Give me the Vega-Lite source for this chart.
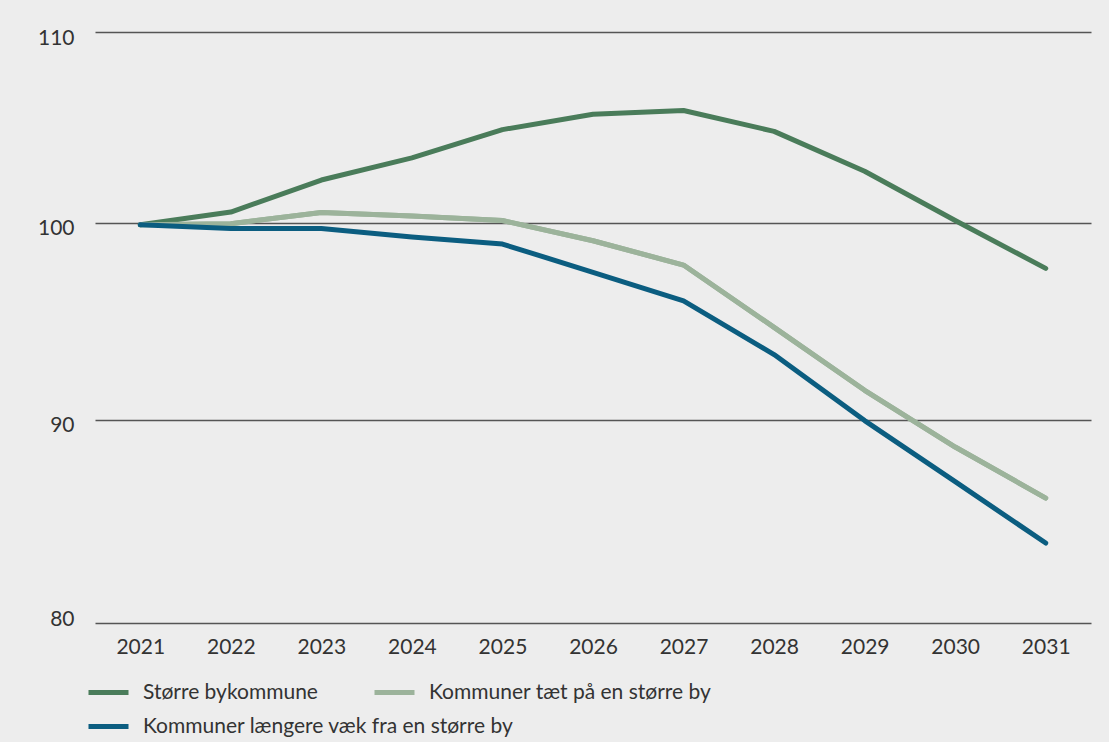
{
  "$schema": "https://vega.github.io/schema/vega-lite/v6.json",
  "width": 996,
  "height": 591,
  "autosize": {"type": "none"},
  "padding": {"left": 95, "top": 32, "right": 18, "bottom": 119},
  "background": "#ededed",
  "config": {"view": {"stroke": null}, "font": "Lato"},
  "data": {
    "values": [
      {"year": "2021", "series": "Større bykommune", "value": 99.9},
      {"year": "2022", "series": "Større bykommune", "value": 100.56},
      {"year": "2023", "series": "Større bykommune", "value": 102.22},
      {"year": "2024", "series": "Større bykommune", "value": 103.37},
      {"year": "2025", "series": "Større bykommune", "value": 104.85},
      {"year": "2026", "series": "Større bykommune", "value": 105.66},
      {"year": "2027", "series": "Større bykommune", "value": 105.85},
      {"year": "2028", "series": "Større bykommune", "value": 104.76},
      {"year": "2029", "series": "Større bykommune", "value": 102.68},
      {"year": "2030", "series": "Større bykommune", "value": 100.12},
      {"year": "2031", "series": "Større bykommune", "value": 97.66},
      {"year": "2021", "series": "Kommuner tæt på en større by", "value": 99.9},
      {"year": "2022", "series": "Kommuner tæt på en større by", "value": 99.96},
      {"year": "2023", "series": "Kommuner tæt på en større by", "value": 100.54},
      {"year": "2024", "series": "Kommuner tæt på en større by", "value": 100.35},
      {"year": "2025", "series": "Kommuner tæt på en større by", "value": 100.12},
      {"year": "2026", "series": "Kommuner tæt på en større by", "value": 99.08},
      {"year": "2027", "series": "Kommuner tæt på en større by", "value": 97.83},
      {"year": "2028", "series": "Kommuner tæt på en større by", "value": 94.65},
      {"year": "2029", "series": "Kommuner tæt på en større by", "value": 91.47},
      {"year": "2030", "series": "Kommuner tæt på en større by", "value": 88.63},
      {"year": "2031", "series": "Kommuner tæt på en større by", "value": 86.1},
      {"year": "2021", "series": "Kommuner længere væk fra en større by", "value": 99.9},
      {"year": "2022", "series": "Kommuner længere væk fra en større by", "value": 99.71},
      {"year": "2023", "series": "Kommuner længere væk fra en større by", "value": 99.71},
      {"year": "2024", "series": "Kommuner længere væk fra en større by", "value": 99.27},
      {"year": "2025", "series": "Kommuner længere væk fra en større by", "value": 98.91},
      {"year": "2026", "series": "Kommuner længere væk fra en større by", "value": 97.46},
      {"year": "2027", "series": "Kommuner længere væk fra en større by", "value": 96.0},
      {"year": "2028", "series": "Kommuner længere væk fra en større by", "value": 93.27},
      {"year": "2029", "series": "Kommuner længere væk fra en større by", "value": 89.95},
      {"year": "2030", "series": "Kommuner længere væk fra en større by", "value": 86.91},
      {"year": "2031", "series": "Kommuner længere væk fra en større by", "value": 83.89}
    ]
  },
  "encoding": {
    "x": {
      "field": "year",
      "type": "ordinal",
      "scale": {"type": "point", "padding": 0.5},
      "axis": {
        "title": null,
        "labelAngle": 0,
        "ticks": false,
        "domain": false,
        "grid": false,
        "labelFontSize": 21,
        "labelColor": "#333333",
        "labelPadding": 13
      }
    },
    "y": {
      "field": "value",
      "type": "quantitative",
      "scale": {"type": "pow", "exponent": 0.7, "domain": [80, 110], "nice": false, "zero": false},
      "axis": {
        "title": null,
        "values": [80, 90, 100, 110],
        "ticks": false,
        "domain": false,
        "grid": true,
        "gridColor": "#555555",
        "gridWidth": 1.5,
        "labelFontSize": 21,
        "labelColor": "#333333",
        "labelPadding": 21,
        "labelBaseline": "middle",
        "labelOffset": {"condition": {"test": "datum.value === 80", "value": -4}, "value": 6}
      }
    }
  },
  "layer": [
    {
      "transform": [{"filter": "datum.series === 'Kommuner tæt på en større by'"}],
      "mark": {"type": "line", "strokeWidth": 5, "strokeCap": "round", "strokeJoin": "round"},
      "encoding": {
        "color": {
          "field": "series",
          "type": "nominal",
          "scale": {"domain": ["Kommuner tæt på en større by"], "range": ["#9cb39b"]},
          "legend": {
            "title": null,
            "orient": "none",
            "legendX": 277,
            "legendY": 638,
            "direction": "vertical",
            "padding": 0,
            "symbolType": "stroke",
            "symbolSize": 1600,
            "symbolStrokeWidth": 5,
            "labelFontSize": 21,
            "labelColor": "#333333",
            "labelOffset": 12,
            "labelLimit": 600
          }
        }
      }
    },
    {
      "mark": {"type": "line", "strokeWidth": 5, "strokeCap": "round", "strokeJoin": "round"},
      "encoding": {
        "color": {
          "field": "series",
          "type": "nominal",
          "scale": {
            "domain": ["Større bykommune", "Kommuner tæt på en større by", "Kommuner længere væk fra en større by"],
            "range": ["#4a7c5a", "#9cb39b", "#0b5d80"]
          },
          "legend": {
            "title": null,
            "values": ["Større bykommune", "Kommuner længere væk fra en større by"],
            "orient": "none",
            "legendX": -9,
            "legendY": 638,
            "direction": "vertical",
            "rowPadding": 1,
            "padding": 0,
            "symbolType": "stroke",
            "symbolSize": 1600,
            "symbolStrokeWidth": 5,
            "labelFontSize": 21,
            "labelColor": "#333333",
            "labelOffset": 12,
            "labelLimit": 600
          }
        }
      }
    }
  ],
  "resolve": {"scale": {"color": "independent"}}
}
